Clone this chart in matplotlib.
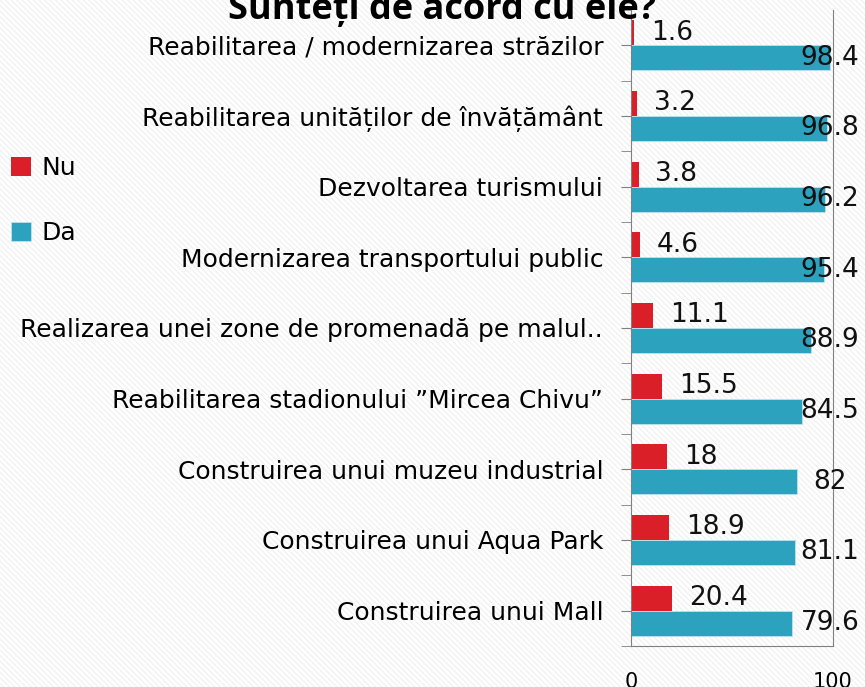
import matplotlib
matplotlib.use('Agg')
from matplotlib import pyplot as plt
from matplotlib.patches import Rectangle
import numpy as np

# data (top to bottom)
categories = [
    'Reabilitarea / modernizarea străzilor',
    'Reabilitarea unităților de învățământ',
    'Dezvoltarea turismului',
    'Modernizarea transportului public',
    'Realizarea unei zone de promenadă pe malul..',
    'Reabilitarea stadionului ”Mircea Chivu”',
    'Construirea unui muzeu industrial',
    'Construirea unui Aqua Park',
    'Construirea unui Mall',
]
nu = [1.6, 3.2, 3.8, 4.6, 11.1, 15.5, 18, 18.9, 20.4]
da = [98.4, 96.8, 96.2, 95.4, 88.9, 84.5, 82, 81.1, 79.6]
nu_labels = ['1.6', '3.2', '3.8', '4.6', '11.1', '15.5', '18', '18.9', '20.4']
da_labels = ['98.4', '96.8', '96.2', '95.4', '88.9', '84.5', '82', '81.1', '79.6']

red = '#DA1F28'
teal = '#2CA2BF'

plt.rcParams['font.family'] = ['DejaVu Sans']
plt.rcParams['hatch.linewidth'] = 1.0

fig = plt.figure(figsize=(8.65, 6.87), dpi=100)
# faint diagonal stripes in the background
fig.patches.append(Rectangle((0, 0), 1, 1, transform=fig.transFigure,
                             facecolor='white', edgecolor='#f2f2f2',
                             hatch='\\\\\\\\\\\\', linewidth=0, zorder=-10))

ax = fig.add_axes([0.7295, 0.0597, 0.2335, 0.9258])
ax.set_facecolor('none')

y = np.arange(len(categories))
h = 0.354
ax.barh(y - h / 2, nu, height=h, color=red, label='Nu')
ax.barh(y + h / 2, da, height=h, color=teal, label='Da', edgecolor='#bfe3ec',
        linewidth=0.6)

for i in range(len(categories)):
    ax.annotate(nu_labels[i], (nu[i], y[i] - h / 2), xytext=(12, 0),
                textcoords='offset points', ha='left', va='center',
                fontsize=19, color='#111111')
    ax.text(98.5, y[i] + h / 2, da_labels[i], ha='center', va='center',
            fontsize=19, color='#111111')

ax.set_xlim(0, 100)
ax.set_ylim(len(categories) - 0.5, -0.5)
ax.set_xticks([0, 100])
ax.set_xticklabels(['0', '100'], fontsize=15)
ax.tick_params(axis='x', length=0, pad=19)
ax.set_yticks(y)
ax.set_yticklabels(categories, fontsize=18)
ax.set_yticks(np.arange(-0.5, len(categories), 1.0), minor=True)
ax.tick_params(axis='y', which='both', length=7, color='#808080', pad=13)

for s in ['left', 'bottom', 'right']:
    ax.spines[s].set_color('#808080')
ax.spines['top'].set_visible(False)

ax.legend(loc='center left', bbox_to_anchor=(-3.18, 0.70), frameon=False,
          fontsize=18, handlelength=0.8, handleheight=0.8, labelspacing=1.65,
          handletextpad=0.4)

fig.text(0.511, 0.973, 'Sunteți de acord cu ele?', ha='center', va='baseline',
         fontsize=26, fontweight='bold', family=['Open Sans', 'DejaVu Sans'])

fig.savefig('out.png', dpi=100)
